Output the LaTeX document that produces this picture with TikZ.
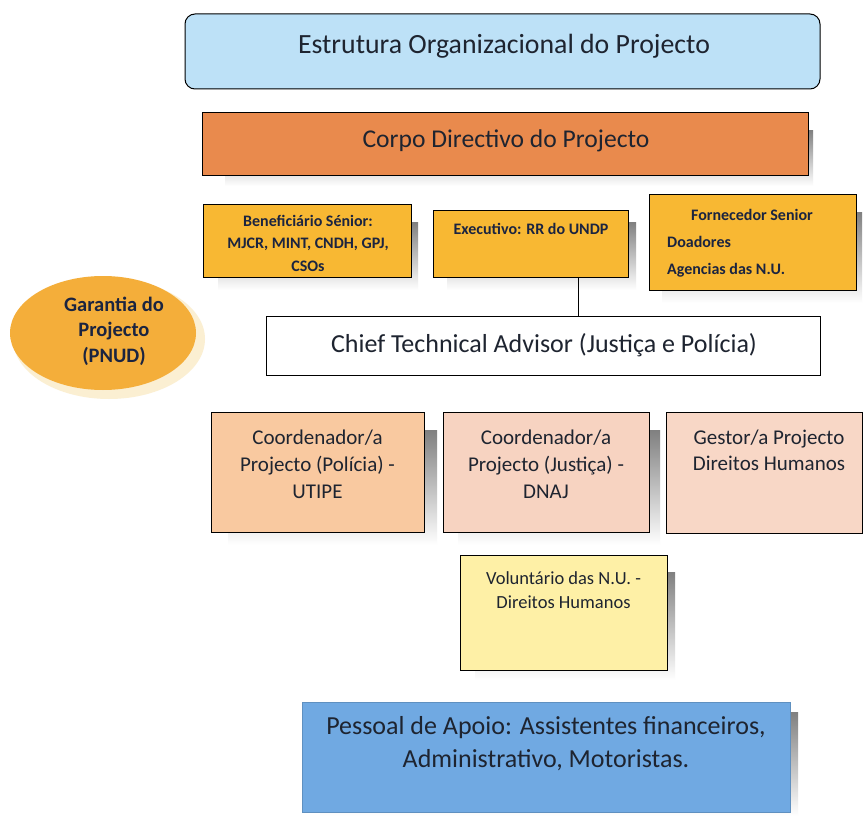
\documentclass[tikz,border=0pt]{standalone}
\usepackage{fontspec}
\setmainfont{Carlito}
\usetikzlibrary{shapes.geometric}
\definecolor{titleblue}{HTML}{BDE1F7}
\definecolor{boardorange}{HTML}{E98A4D}
\definecolor{gold}{HTML}{F8B833}
\definecolor{peachA}{HTML}{F9C9A0}
\definecolor{peachB}{HTML}{F7D3C1}
\definecolor{peachC}{HTML}{F8D7C6}
\definecolor{paleyellow}{HTML}{FEF0A6}
\definecolor{staffblue}{HTML}{70A9E2}
\definecolor{ovalfill}{HTML}{F4AE3A}
\definecolor{ovalrim}{HTML}{FBEFD2}
\definecolor{shade}{HTML}{DADADA}
\definecolor{ink}{HTML}{1E2430}
\definecolor{navy}{HTML}{1B2440}
\tikzset{
  box/.style={draw=black, line width=1pt, inner sep=0pt, rectangle},
  label/.style={text=ink, align=center, inner sep=0pt},
  small/.style={text=navy, inner sep=0pt, font=\fontsize{16}{22.5}\selectfont\bfseries},
}
\begin{document}
\begin{tikzpicture}[x=1pt,y=-1pt]
\useasboundingbox (0,0) rectangle (863,816);
\fill[white] (0,0) rectangle (863,816);

% drop shadows
\fill[shade] (225,130) rectangle (813,186);
\fill[shade] (218,222) rectangle (418,290);
\fill[shade] (447,222) rectangle (636,290);
\fill[shade] (662,212) rectangle (862,303);
\fill[shade] (228,430) rectangle (437,545);
\fill[shade] (458,430) rectangle (660,545);
\fill[shade] (475,572) rectangle (675,680);
\fill[shade] (320,712) rectangle (798,816);

% title and board
\node[box, rounded corners=10pt, fill=titleblue, minimum width=635, minimum height=75] (title) at (502.5,51.5) {};
\node[label, font=\fontsize{27.8}{32}\selectfont] (titletext) at (504,46) {Estrutura Organizacional do Projecto};

\node[box, fill=boardorange, minimum width=606, minimum height=62] (board) at (505,144) {};
\node[label, font=\fontsize{25.6}{30}\selectfont] (boardtext) at (506,141) {Corpo Directivo do Projecto};

% board members
\node[box, fill=gold, minimum width=208, minimum height=73] (benef) at (307,240.5) {};
\node[small, align=center] (beneftext) at (308,243) {Beneficiário Sénior:\\MJCR, MINT, CNDH, GPJ,\\CSOs};

\node[box, fill=gold, minimum width=195, minimum height=67] (exec) at (530.5,243.5) {};
\node[small] (exectext) at (531,229) {Executivo: RR do UNDP};

\node[box, fill=gold, minimum width=207, minimum height=96] (forn) at (752.5,242) {};
\node[small] (forntitle) at (752,215) {Fornecedor Senior};
\node[small, anchor=west] (donors) at (667,242) {Doadores};
\node[small, anchor=west] (agencies) at (667,270) {Agencias das N.U.};

% assurance
\fill[ovalrim] (109,339) ellipse [x radius=96, y radius=60];
\node[ellipse, fill=ovalfill, minimum width=186, minimum height=114, inner sep=0pt] (assur) at (103,333) {};
\node[label, text=navy, font=\fontsize{20.5}{25.5}\selectfont\bfseries] (assurtext) at (114,331) {Garantia do\\Projecto\\(PNUD)};

% chief technical advisor
\node[box, fill=white, minimum width=554, minimum height=59] (cta) at (543,345.5) {};
\node[label, font=\fontsize{26}{30}\selectfont] (ctatext) at (544,345) {Chief Technical Advisor (Justiça e Polícia)};
\draw[line width=1pt] ([xshift=47.5]exec.south) -- ([xshift=47.5]exec.south |- cta.north);

% coordinators
\node[box, fill=peachA, minimum width=213, minimum height=120] (police) at (317.5,472) {};
\node[label, font=\fontsize{21}{27}\selectfont] (policetext) at (317.5,464) {Coordenador/a\\Projecto (Polícia) -\\UTIPE};

\node[box, fill=peachB, minimum width=206, minimum height=120] (justice) at (546,472) {};
\node[label, font=\fontsize{21}{27}\selectfont] (justicetext) at (546,464) {Coordenador/a\\Projecto (Justiça) -\\DNAJ};

\node[box, fill=peachC, minimum width=196, minimum height=121] (rights) at (764,472.5) {};
\node[label, font=\fontsize{21}{26}\selectfont] (rightstext) at (769,450) {Gestor/a Projecto\\Direitos Humanos};

% volunteer
\node[box, fill=paleyellow, minimum width=207, minimum height=115] (volunteer) at (563.5,612.5) {};
\node[label, font=\fontsize{18.5}{24}\selectfont] (volunteertext) at (563.5,590) {Voluntário das N.U. -\\Direitos Humanos};

% support staff
\node[rectangle, fill=staffblue, draw=staffblue!85!black, line width=0.4pt, minimum width=488, minimum height=110, inner sep=0pt] (staff) at (546,757) {};
\node[label, font=\fontsize{26}{33}\selectfont] (stafftext) at (546,743.5) {Pessoal de Apoio: Assistentes financeiros,\\Administrativo, Motoristas.};
\end{tikzpicture}
\end{document}
